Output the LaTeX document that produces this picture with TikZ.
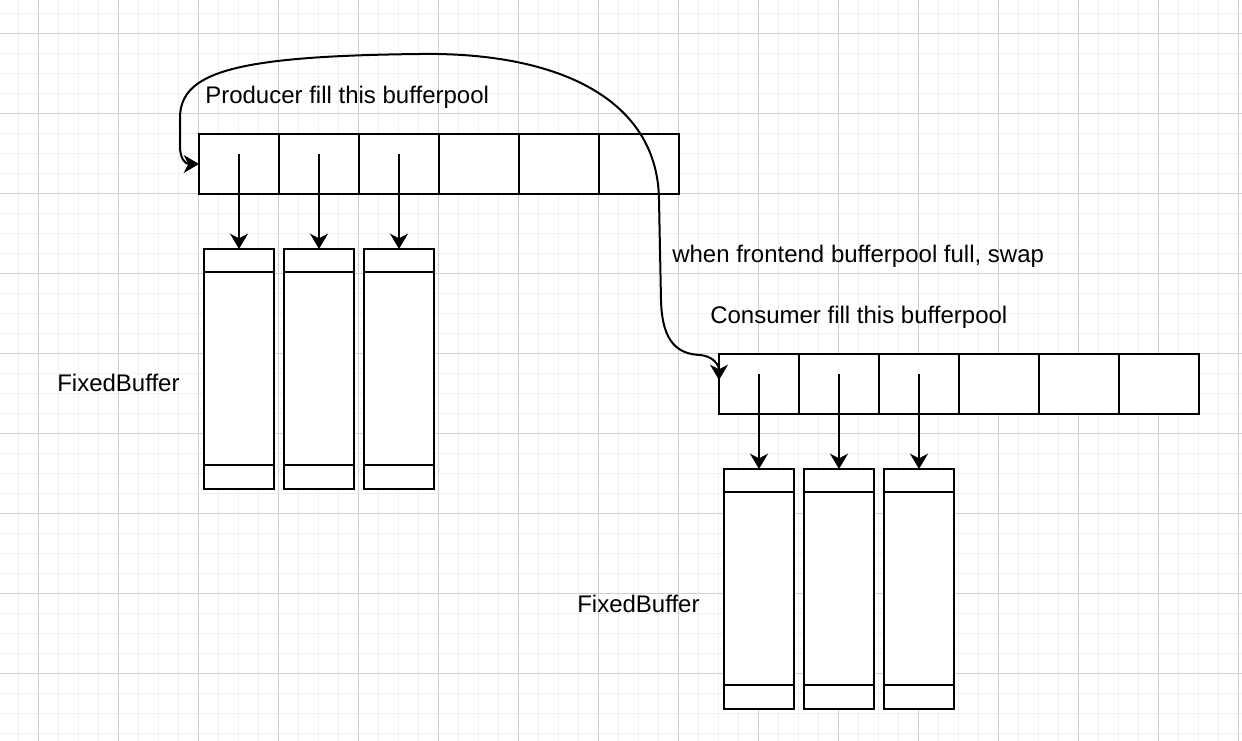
\documentclass[tikz,border=0pt]{standalone}
\usepackage{fontspec}
\setmainfont{Liberation Sans}
\usetikzlibrary{arrows.meta}
\definecolor{gridminor}{HTML}{F0F0F0}
\definecolor{gridmajor}{HTML}{D0D0D0}
\tikzset{
  cell/.style={draw=black, line width=1.5pt, fill=white, minimum width=60pt, minimum height=45pt, inner sep=0pt, outer sep=0pt},
  fbuf/.style={draw=black, line width=1.5pt, fill=white, minimum width=52.5pt, minimum height=180pt, inner sep=0pt, outer sep=0pt},
  lbl/.style={font=\fontsize{18pt}{21pt}\selectfont, inner sep=0pt, anchor=base west},
  tipstyle/.style={},
  conn/.style={line width=1.5pt, -{Stealth[length=11.5pt, width=13.5pt, inset=3.5pt]}},
  swapconn/.style={line width=1.5pt, {Stealth[length=11.5pt, width=13.5pt, inset=3.5pt]}-{Stealth[length=11.5pt, width=13.5pt, inset=3.5pt]}},
}
\begin{document}
\begin{tikzpicture}[x=0.75pt, y=-0.75pt]
\useasboundingbox (0,0) rectangle (1242,741);
\fill[white] (0,0) rectangle (1242,741);
% grid
\foreach \i in {0,...,61} {\draw[gridminor, line width=0.75pt] ({18.5+20*\i},0) -- ({18.5+20*\i},741);}
\foreach \j in {0,...,36} {\draw[gridminor, line width=0.75pt] (0,{13.5+20*\j}) -- (1242,{13.5+20*\j});}
\foreach \i in {0,...,15} {\draw[gridmajor, line width=0.75pt] ({38.5+80*\i},0) -- ({38.5+80*\i},741);}
\foreach \j in {0,...,9} {\draw[gridmajor, line width=0.75pt] (0,{33.5+80*\j}) -- (1242,{33.5+80*\j});}

% producer pool
\foreach \k in {1,...,6} {\node[cell] (p\k) at ({159+80*\k},164) {};}
% consumer pool
\foreach \k in {1,...,6} {\node[cell] (q\k) at ({679+80*\k},384) {};}

% fixed buffers (producer side)
\foreach \k in {1,2,3} {
  \node[fbuf] (fa\k) at ({159+80*\k},369) {};
  \draw[line width=1.5pt] ([yshift=-23*0.75pt]fa\k.north west) -- ([yshift=-23*0.75pt]fa\k.north east);
  \draw[line width=1.5pt] ([yshift=24*0.75pt]fa\k.south west) -- ([yshift=24*0.75pt]fa\k.south east);
}
% fixed buffers (consumer side)
\foreach \k in {1,2,3} {
  \node[fbuf] (fb\k) at ({679+80*\k},589) {};
  \draw[line width=1.5pt] ([yshift=-23*0.75pt]fb\k.north west) -- ([yshift=-23*0.75pt]fb\k.north east);
  \draw[line width=1.5pt] ([yshift=24*0.75pt]fb\k.south west) -- ([yshift=24*0.75pt]fb\k.south east);
}

% arrows from cells to buffers
\foreach \k in {1,2,3} {
  \draw[conn] ([yshift=7.5pt]p\k.center) -- (fa\k.north);
  \draw[conn] ([yshift=7.5pt]q\k.center) -- (fb\k.north);
}

% swap curve
\coordinate (swapend) at ([yshift=4*0.75pt]q1.west);
\draw[swapconn] (p1.west) .. controls (186,164) and (180,160) .. (180,146)
  -- (180,118) .. controls (180,72) and (235,56) .. (420,54)
  .. controls (560,52) and (658,100) .. (659,200)
  -- (661,300) .. controls (662,345) and (680,354) .. (700,355)
  .. controls (712,356) and (719,364) .. (swapend);

% labels
\node[lbl] (lprod) at (205,103.5) {Producer fill this bufferpool};
\node[lbl] (lswap) at (672,262.5) {when frontend bufferpool full, swap};
\node[lbl] (lcons) at (710,323.5) {Consumer fill this bufferpool};
\node[lbl] (lfa) at (57,392) {FixedBuffer};
\node[lbl] (lfb) at (577,612) {FixedBuffer};
\end{tikzpicture}
\end{document}
